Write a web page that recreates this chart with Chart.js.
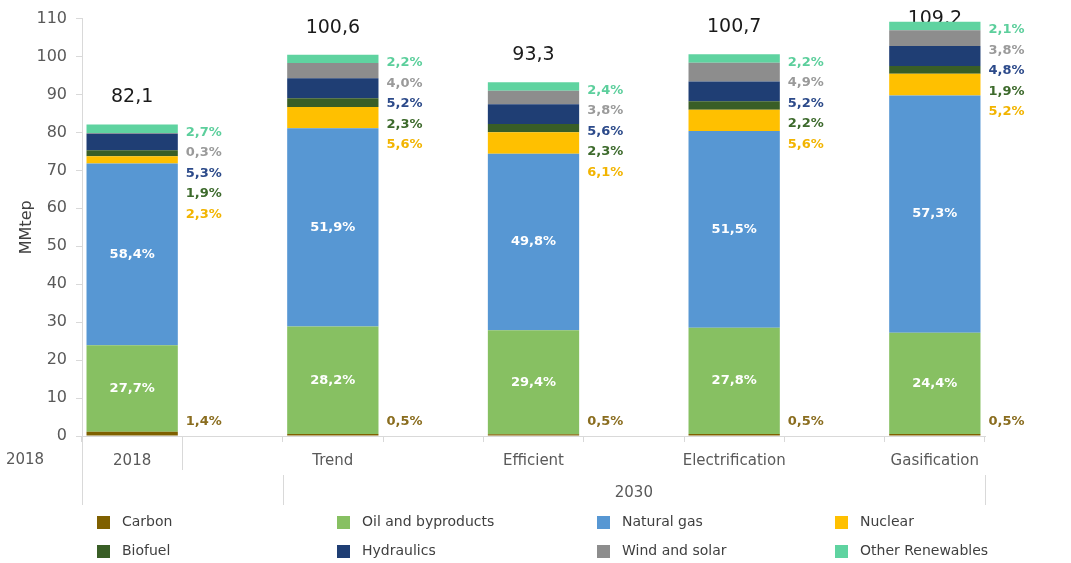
<!DOCTYPE html>
<html>
<head>
<meta charset="utf-8">
<script src="https://cdn.jsdelivr.net/npm/chart.js@4.4.1/dist/chart.umd.min.js"></script>
<style>
  html, body { margin: 0; padding: 0; background: #ffffff; }
  #wrap { width: 1071px; height: 563px; }
</style>
</head>
<body>
<div id="wrap"><canvas id="myChart"></canvas></div>
<script>
// scenarios and total demand (MMtep)
const scenarios = ['2018', 'Trend', 'Efficient', 'Electrification', 'Gasification'];
const totals = [82.1, 100.6, 93.3, 100.7, 109.2];

// share of each source in every scenario (%)
const carbon      = [1.4, 0.5, 0.5, 0.5, 0.5];
const oil         = [27.7, 28.2, 29.4, 27.8, 24.4];
const naturalGas  = [58.4, 51.9, 49.8, 51.5, 57.3];
const nuclear     = [2.3, 5.6, 6.1, 5.6, 5.2];
const biofuel     = [1.9, 2.3, 2.3, 2.2, 1.9];
const hydraulics  = [5.3, 5.2, 5.6, 5.2, 4.8];
const windSolar   = [0.3, 4.0, 3.8, 4.9, 3.8];
const otherRenew  = [2.7, 2.2, 2.4, 2.2, 2.1];

const yTicks = [0, 10, 20, 30, 40, 50, 60, 70, 80, 90, 100, 110];

const sources = [
  { name: 'Carbon',             share: carbon,     color: '#7f6000', text: '#8a6d1f' },
  { name: 'Oil and byproducts', share: oil,        color: '#87c062', text: '#ffffff' },
  { name: 'Natural gas',        share: naturalGas, color: '#5797d3', text: '#ffffff' },
  { name: 'Nuclear',            share: nuclear,    color: '#ffc000', text: '#f2b400' },
  { name: 'Biofuel',            share: biofuel,    color: '#395e26', text: '#3d6a2c' },
  { name: 'Hydraulics',         share: hydraulics, color: '#1f3e74', text: '#2c4a8a' },
  { name: 'Wind and solar',     share: windSolar,  color: '#8d8d8d', text: '#9a9a9a' },
  { name: 'Other Renewables',   share: otherRenew, color: '#5fd3a0', text: '#5ccf9c' }
];

// every scenario bar is followed by an empty slot on the category axis
const labels = [];
const barSlots = [];
scenarios.forEach((s, i) => {
  barSlots.push(labels.length);
  labels.push(s);
  if (i < scenarios.length - 1) labels.push('');
});

function slotValues(share) {
  const out = labels.map(() => null);
  barSlots.forEach((slot, i) => { out[slot] = share[i] * totals[i] / 100; });
  return out;
}

function fmt(v) {
  return v.toFixed(1).replace('.', ',');
}

const FONT = '"DejaVu Sans", sans-serif';

const annotate = {
  id: 'annotate',
  beforeDatasetsDraw(chart) {
    // totals go under the bars, the tallest one overlaps its own number
    const ctx = chart.ctx;
    const top = chart.getDatasetMeta(sources.length - 1);
    ctx.save();
    ctx.font = '19px ' + FONT;
    ctx.fillStyle = '#1a1a1a';
    ctx.textAlign = 'center';
    ctx.textBaseline = 'middle';
    barSlots.forEach((slot, i) => {
      const bar = top.data[slot];
      ctx.fillText(fmt(totals[i]), bar.x, Math.max(bar.y - 27, 19));
    });
    ctx.restore();
  },
  afterDatasetsDraw(chart) {
    const ctx = chart.ctx;
    ctx.save();
    ctx.font = 'bold 13px ' + FONT;
    ctx.textBaseline = 'middle';

    // oil and gas shares inside their segments
    ctx.textAlign = 'center';
    [1, 2].forEach(d => {
      const meta = chart.getDatasetMeta(d);
      barSlots.forEach((slot, i) => {
        const bar = meta.data[slot];
        ctx.fillStyle = sources[d].text;
        ctx.fillText(fmt(sources[d].share[i]) + '%', bar.x, (bar.y + bar.base) / 2);
      });
    });

    // small sources listed beside the top of each bar
    ctx.textAlign = 'left';
    const topMeta = chart.getDatasetMeta(sources.length - 1);
    const listed = [7, 6, 5, 4, 3];
    barSlots.forEach((slot, i) => {
      const bar = topMeta.data[slot];
      const x = bar.x + bar.width / 2 + 8;
      listed.forEach((d, k) => {
        ctx.fillStyle = sources[d].text;
        ctx.fillText(fmt(sources[d].share[i]) + '%', x, bar.y + 8 + k * 20.5);
      });
    });

    // carbon share at the foot of each bar
    const carbonMeta = chart.getDatasetMeta(0);
    barSlots.forEach((slot, i) => {
      const bar = carbonMeta.data[slot];
      ctx.fillStyle = sources[0].text;
      ctx.fillText(fmt(sources[0].share[i]) + '%', bar.x + bar.width / 2 + 8, bar.base - 14);
    });
    ctx.restore();
  },
  afterDraw(chart) {
    const ctx = chart.ctx;
    const area = chart.chartArea;
    const slotW = (area.right - area.left) / labels.length;
    const bottom = area.bottom;

    // year grouping under the category labels
    ctx.save();
    ctx.strokeStyle = '#d9d9d9';
    ctx.lineWidth = 1;
    const seg = (x, y0, y1) => {
      ctx.beginPath();
      ctx.moveTo(Math.round(x) + 0.5, y0);
      ctx.lineTo(Math.round(x) + 0.5, y1);
      ctx.stroke();
    };
    seg(area.left, bottom, bottom + 69);
    seg(area.left + slotW, bottom, bottom + 34);
    seg(area.left + 2 * slotW, bottom + 39, bottom + 69);
    seg(area.right, bottom + 39, bottom + 69);

    ctx.fillStyle = '#595959';
    ctx.font = '15px ' + FONT;
    ctx.textBaseline = 'middle';
    ctx.textAlign = 'center';
    ctx.fillText('2018', 25, bottom + 24);
    ctx.fillText('2030', (area.left + 2 * slotW + area.right) / 2, bottom + 57);

    // legend in four columns of two
    const colBox = [97, 337, 597, 835];
    const rowY = [522, 551];
    ctx.font = '14px ' + FONT;
    ctx.textAlign = 'left';
    const order = [[0, 4], [1, 5], [2, 6], [3, 7]];
    order.forEach((pair, c) => {
      pair.forEach((d, r) => {
        ctx.fillStyle = sources[d].color;
        ctx.fillRect(colBox[c], rowY[r] - 6, 13, 13);
        ctx.fillStyle = '#404040';
        ctx.fillText(sources[d].name, colBox[c] + 25, rowY[r]);
      });
    });
    ctx.restore();
  }
};

Chart.defaults.font.family = FONT;
Chart.defaults.color = '#595959';

const ctx = document.getElementById('myChart');
const chart = new Chart(ctx, {
  type: 'bar',
  data: {
    labels: labels,
    datasets: sources.map(s => ({
      label: s.name,
      data: slotValues(s.share),
      backgroundColor: s.color,
      borderWidth: 0,
      barPercentage: 0.91,
      categoryPercentage: 1.0
    }))
  },
  options: {
    responsive: true,
    maintainAspectRatio: false,
    animation: false,
    layout: { padding: { top: 18, right: 86, left: 0, bottom: 0 } },
    plugins: {
      legend: { display: false },
      tooltip: { enabled: false }
    },
    scales: {
      x: {
        stacked: true,
        grid: {
          display: true,
          offset: true,
          drawOnChartArea: false,
          drawTicks: true,
          tickLength: 6,
          color: '#d9d9d9'
        },
        border: { color: '#d9d9d9' },
        ticks: { font: { size: 15 }, color: '#595959', padding: 10, maxRotation: 0, autoSkip: false },
        afterFit(scale) { scale.height = 127; }
      },
      y: {
        stacked: true,
        min: 0,
        max: 110,
        afterBuildTicks(scale) { scale.ticks = yTicks.map(v => ({ value: v })); },
        grid: {
          drawOnChartArea: false,
          drawTicks: true,
          tickLength: 6,
          color: '#d9d9d9'
        },
        border: { color: '#d9d9d9' },
        ticks: { font: { size: 16 }, color: '#595959', padding: 9 },
        title: {
          display: true,
          text: 'MMtep',
          font: { size: 16 },
          color: '#404040',
          padding: { top: 17, bottom: 0 }
        },
        afterFit(scale) { scale.width = 82; }
      }
    }
  },
  plugins: [annotate]
});
</script>
</body>
</html>
